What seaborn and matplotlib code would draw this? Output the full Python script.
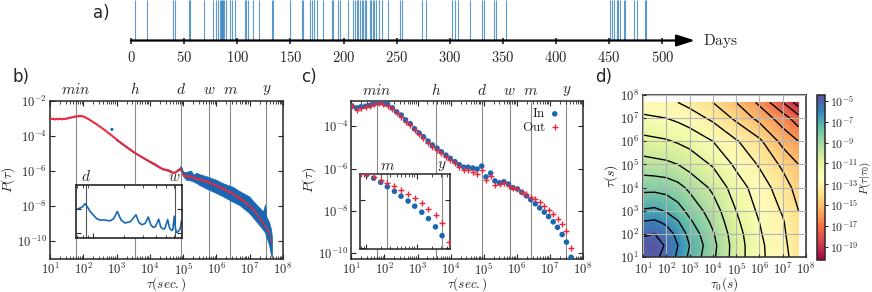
import numpy as np
import matplotlib
matplotlib.use('Agg')
import matplotlib.pyplot as plt
import matplotlib.ticker as mticker
import matplotlib.transforms as mtransforms
import seaborn as sns

# ---------------- data ----------------
# a) days with events
event_days = [4.1, 15.4, 39.9, 41, 54.6, 55.6, 69, 77.5, 80, 81.6, 84, 84.7, 85.3, 86, 86.7,
              87.6, 89.4, 93, 95, 98, 107.5, 108.5, 110.5, 114.6, 120.7, 133, 134, 150, 161,
              162, 168.5, 170, 172.3, 174.9, 181, 189, 190.5, 195.2, 196.8, 204.6, 209.4, 211,
              212.6, 214, 215.5, 217, 218.5, 220, 221.5, 224.5, 226, 227.5, 229, 231, 233, 236,
              242.3, 253.3, 254.9, 273.7, 277.8, 302, 305, 307.4, 318.6, 330, 331.8, 342, 343.4,
              353, 450.4, 452.6, 455, 457.3, 458.3, 460.5, 463.6, 465, 473, 476, 483.3, 485]
day_ticks = [0, 50, 100, 150, 200, 250, 300, 350, 400, 450, 500]

# characteristic time scales (seconds)
scale_names = ['min', 'h', 'd', 'w', 'm', 'y']
scale_secs = [60, 3600, 86400, 604800, 2629800, 31557600]

# b) log-binned P(tau) (red) and raw distribution (blue)
b_red_logtau = [1.00, 1.05, 1.10, 1.15, 1.20, 1.25, 1.30, 1.35, 1.40, 1.45, 1.50, 1.55, 1.60, 1.65,
                1.70, 1.75, 1.80, 1.85, 1.90, 1.95, 2.00, 2.05, 2.10, 2.15, 2.20, 2.25, 2.30, 2.35,
                2.40, 2.45, 2.50, 2.55, 2.60, 2.65, 2.70, 2.75, 2.80, 2.85, 2.90, 2.95, 3.00, 3.05,
                3.10, 3.15, 3.20, 3.25, 3.30, 3.35, 3.40, 3.45, 3.50, 3.55, 3.60, 3.65, 3.70, 3.75,
                3.80, 3.85, 3.90, 3.95, 4.00, 4.05, 4.10, 4.15, 4.20, 4.25, 4.30, 4.35, 4.40, 4.45,
                4.50, 4.55, 4.60, 4.65, 4.70, 4.75, 4.80, 4.85, 4.90, 4.95, 5.00, 5.05, 5.10, 5.15,
                5.20, 5.25, 5.30, 5.35, 5.40, 5.45, 5.50, 5.55, 5.60, 5.65, 5.70, 5.75, 5.80, 5.85,
                5.90, 5.95, 6.00, 6.05, 6.10, 6.15, 6.20, 6.25, 6.30, 6.35, 6.40, 6.45, 6.50, 6.55,
                6.60, 6.65, 6.70, 6.75, 6.80, 6.85, 6.90, 6.95, 7.00, 7.05, 7.10, 7.15, 7.20, 7.25,
                7.30, 7.35, 7.40, 7.45, 7.50, 7.55, 7.60, 7.65]
b_red_logp = [-3.03, -3.05, -3.04, -3.07, -3.05, -3.06, -3.04, -3.06, -3.04, -3.05, -3.03, -3.00,
              -2.98, -2.96, -2.94, -2.92, -2.90, -2.89, -2.88, -2.89, -2.91, -2.95, -3.00, -3.05,
              -3.11, -3.17, -3.23, -3.29, -3.35, -3.42, -3.48, -3.55, -3.62, -3.69, -3.76, -3.84,
              -3.91, -3.98, -4.06, -4.13, -4.21, -4.28, -4.36, -4.43, -4.50, -4.57, -4.64, -4.71,
              -4.78, -4.84, -4.91, -4.97, -5.03, -5.09, -5.15, -5.20, -5.26, -5.31, -5.37, -5.42,
              -5.47, -5.52, -5.57, -5.62, -5.68, -5.74, -5.80, -5.86, -5.91, -5.93, -5.94, -5.96,
              -6.00, -6.05, -6.10, -6.10, -6.04, -5.96, -5.90, -5.98, -6.20, -6.28, -6.30, -6.32,
              -6.30, -6.33, -6.38, -6.42, -6.44, -6.47, -6.50, -6.52, -6.55, -6.58, -6.61, -6.64,
              -6.68, -6.72, -6.76, -6.80, -6.84, -6.88, -6.93, -6.97, -7.02, -7.06, -7.11, -7.16,
              -7.21, -7.26, -7.32, -7.37, -7.43, -7.49, -7.55, -7.62, -7.69, -7.76, -7.83, -7.91,
              -8.00, -8.09, -8.19, -8.30, -8.42, -8.55, -8.68, -8.82, -8.96, -9.10, -9.25, -9.42,
              -9.62, -9.95]
b_blue_logtau = [3.0, 3.5, 4.0, 4.3, 4.5, 4.7, 4.8, 4.9, 4.94, 4.97, 5.0]
b_blue_logp = [-4.24, -4.92, -5.49, -5.82, -5.96, -6.12, -6.06, -5.92, -5.78, -5.95, -6.10]
b_band_logtau = [4.90, 4.94, 5.00, 5.09, 5.24, 5.30, 5.41, 5.49, 5.70, 5.99, 6.20, 6.49, 6.70,
                 6.99, 7.10, 7.30, 7.40, 7.46, 7.50, 7.58, 7.64, 7.67]
b_band_upper = [-5.90, -5.78, -6.05, -6.05, -5.98, -6.20, -6.10, -6.18, -6.30, -6.50, -6.70,
                -6.90, -7.15, -7.45, -7.70, -8.10, -8.30, -7.90, -8.60, -8.90, -9.30, -9.80]
b_band_lower = [-5.95, -5.95, -6.30, -6.50, -6.55, -6.60, -6.70, -6.80, -7.00, -7.25, -7.45,
                -7.75, -7.95, -8.40, -8.65, -9.10, -9.35, -9.50, -9.75, -10.20, -10.80, -10.90]
b_outlier_logtau = [2.86]
b_outlier_logp = [-3.64]
# b) inset: raw distribution between ~1 day and ~1 week
b_inset_logtau = [4.84, 4.90, 4.926, 4.95, 4.974, 5.038, 5.07, 5.101, 5.13, 5.165, 5.20, 5.235,
                  5.27, 5.308, 5.36, 5.413, 5.44, 5.468, 5.50, 5.531, 5.555, 5.579, 5.60, 5.630,
                  5.65, 5.674, 5.69, 5.716, 5.735, 5.754, 5.765, 5.779, 5.79, 5.802, 5.82, 5.834,
                  5.85]
b_inset_logp = [-6.03, -5.92, -5.78, -5.92, -6.10, -6.40, -6.46, -6.45, -6.47, -6.49, -6.40,
                -6.10, -6.45, -6.58, -6.52, -6.24, -6.55, -6.65, -6.60, -6.33, -6.66, -6.76,
                -6.72, -6.42, -6.75, -6.83, -6.80, -6.44, -6.80, -6.89, -6.85, -6.30, -6.80,
                -6.97, -6.92, -6.83, -6.45]

# c) in / out distributions (log-binned)
c_logtau = [1.02, 1.16, 1.29, 1.43, 1.56, 1.70, 1.83, 1.97, 2.10, 2.24, 2.37, 2.51, 2.64, 2.78,
            2.91, 3.05, 3.18, 3.32, 3.45, 3.59, 3.72, 3.86, 3.99, 4.13, 4.26, 4.40, 4.53, 4.67,
            4.80, 4.94, 5.07, 5.21, 5.34, 5.48, 5.61, 5.75, 5.88, 6.02, 6.15, 6.29, 6.42, 6.56,
            6.69, 6.83, 6.96, 7.10, 7.23, 7.37, 7.50, 7.64]
c_in_logp = [-3.03, -3.12, -3.07, -3.04, -3.00, -2.92, -2.88, -2.89, -2.95, -3.12, -3.31, -3.46,
             -3.69, -3.87, -4.11, -4.31, -4.49, -4.69, -4.88, -5.03, -5.20, -5.36, -5.51, -5.67,
             -5.81, -5.93, -5.93, -5.97, -6.02, -5.88, -6.39, -6.21, -6.58, -6.67, -6.62, -6.73,
             -6.90, -6.96, -7.12, -7.29, -7.47, -7.66, -7.86, -8.06, -8.27, -8.52, -8.78, -9.12,
             -9.48, -10.20]
c_out_logp = [-3.03, -3.20, -3.12, -3.10, -3.04, -2.95, -2.89, -2.92, -3.03, -3.15, -3.38, -3.54,
              -3.77, -3.95, -4.19, -4.35, -4.57, -4.77, -4.96, -5.11, -5.28, -5.44, -5.59, -5.74,
              -5.93, -6.08, -6.08, -6.16, -6.24, -6.04, -6.55, -6.35, -6.78, -6.75, -6.70, -6.81,
              -6.93, -6.96, -7.09, -7.21, -7.32, -7.44, -7.60, -7.75, -7.94, -8.13, -8.37, -8.63,
              -8.97, -9.74]

# d) log10 P(tau | tau0) on a grid of log10 tau0 (columns) and log10 tau (rows)
d_logtau0 = [1.0, 1.5, 2.0, 2.5, 3.0, 4.0, 5.0, 6.0, 7.0, 7.68]
d_logtau = [1.0, 1.5, 2.0, 2.5, 3.0, 4.0, 5.0, 6.0, 7.0, 7.68]
d_logp = [
    [-4.9, -4.8, -5.3, -6.2, -7.2, -8.8, -10.5, -11.8, -12.6, -13.6],
    [-4.7, -4.6, -5.1, -6.0, -7.0, -8.7, -10.5, -11.8, -12.7, -13.7],
    [-5.1, -5.0, -5.5, -6.3, -7.3, -8.9, -10.6, -11.9, -12.8, -13.8],
    [-5.9, -5.8, -6.2, -6.9, -7.8, -9.2, -10.8, -12.0, -12.9, -13.9],
    [-6.9, -6.8, -7.1, -7.6, -8.3, -9.5, -11.0, -12.2, -13.1, -14.0],
    [-8.3, -8.3, -8.4, -8.7, -9.2, -10.2, -11.5, -12.5, -13.5, -14.4],
    [-9.6, -9.7, -9.8, -10.0, -10.4, -11.1, -12.2, -13.1, -14.2, -15.0],
    [-10.7, -10.8, -10.9, -11.1, -11.3, -12.0, -12.9, -13.8, -15.3, -16.0],
    [-11.8, -11.9, -12.0, -12.2, -12.5, -13.2, -14.2, -15.3, -16.5, -17.6],
    [-12.6, -12.7, -12.8, -13.0, -13.3, -14.0, -15.0, -16.2, -18.0, -19.5],
]
cbar_ticks = [-5, -7, -9, -11, -13, -15, -17, -19]

# ---------------- style ----------------
sns.set_style('ticks')
plt.rcParams['font.family'] = ['DejaVu Sans']
plt.rcParams['mathtext.fontset'] = 'cm'
plt.rcParams['axes.linewidth'] = 1.1

BLUE = '#1967b2'
RED = '#e6283c'
GREY = '#8a8a8a'
W, H = 872, 292
TICK_FS = 9
LABEL_FS = 9.5


def box(l, t, r, b):
    # pixel box -> figure fraction
    return [l / W, 1 - b / H, (r - l) / W, (b - t) / H]


def pow10(v, pos):
    return r'$10^{%d}$' % int(round(np.log10(v)))


def log_axes(ax, xlim, ylim, yticks, labels=True):
    ax.set_xscale('log')
    ax.set_yscale('log')
    ax.set_xlim(*xlim)
    ax.set_ylim(*ylim)
    ax.xaxis.set_major_locator(mticker.FixedLocator([10.0 ** k for k in range(1, 9)]))
    ax.xaxis.set_minor_locator(mticker.LogLocator(base=10, subs=np.arange(2, 10), numticks=20))
    ax.yaxis.set_major_locator(mticker.FixedLocator([10.0 ** k for k in yticks]))
    ax.yaxis.set_minor_locator(mticker.NullLocator())
    ax.xaxis.set_minor_formatter(mticker.NullFormatter())
    if labels:
        ax.xaxis.set_major_formatter(mticker.FuncFormatter(pow10))
        ax.yaxis.set_major_formatter(mticker.FuncFormatter(pow10))
    else:
        ax.tick_params(labelbottom=False, labelleft=False)
    ax.tick_params(which='both', direction='in', top=True, right=True, labelsize=TICK_FS, pad=2)
    ax.tick_params(which='major', length=3.5)
    ax.tick_params(which='minor', length=2)


def scale_lines(ax, names, secs, color=GREY, size=11):
    trans = mtransforms.blended_transform_factory(ax.transData, ax.transAxes)
    for name, s in zip(names, secs):
        ax.axvline(s, color=color, lw=0.8, zorder=0)
        ax.text(s, 1.02, '$%s$' % name, transform=trans, ha='center', va='bottom', fontsize=size)


fig = plt.figure(figsize=(W / 100, H / 100), dpi=100)

# ---------------- a) ----------------
ax_a = fig.add_axes(box(131, 0, 695, 40.5))
ax_a.vlines(event_days, 0, 1, color='#2a78bb', lw=0.8, alpha=0.75)
ax_a.set_xlim(0, 530.8)
ax_a.set_ylim(0, 1)
for sp in ax_a.spines.values():
    sp.set_visible(False)
ax_a.annotate('', xy=(1, 0), xycoords='axes fraction', xytext=(0, 0),
              arrowprops=dict(arrowstyle='-|>,head_length=1.1,head_width=0.35', color='k',
                              lw=1.6, shrinkA=0, shrinkB=0))
ax_a.set_xticks(day_ticks)
ax_a.set_xticklabels(['$%d$' % d for d in day_ticks])
ax_a.tick_params(axis='x', direction='inout', length=5, width=1.2, pad=4, labelsize=10.5)
ax_a.set_yticks([])
fig.text(703 / W, 1 - 40.5 / H, r'$\mathrm{Days}$', ha='left', va='center', fontsize=11)
fig.text(93 / W, 1 - 13 / H, 'a)', ha='left', va='center', fontsize=12)

# ---------------- b) ----------------
ax_b = fig.add_axes(box(50, 100.5, 283, 259))
log_axes(ax_b, (10, 1e8), (1e-11, 1e-2), [-2, -4, -6, -8, -10])
scale_lines(ax_b, scale_names, scale_secs)
ax_b.fill_between(10.0 ** np.array(b_band_logtau), 10.0 ** np.array(b_band_lower),
                  10.0 ** np.array(b_band_upper), color=BLUE, lw=0.5, zorder=2)
sns.lineplot(x=10.0 ** np.array(b_blue_logtau), y=10.0 ** np.array(b_blue_logp), ax=ax_b,
             color=BLUE, lw=1.2, estimator=None, zorder=2)
sns.scatterplot(x=10.0 ** np.array(b_outlier_logtau), y=10.0 ** np.array(b_outlier_logp),
                ax=ax_b, color=BLUE, s=5, edgecolor='none', zorder=3)
sns.scatterplot(x=10.0 ** np.array(b_red_logtau), y=10.0 ** np.array(b_red_logp), ax=ax_b,
                color=RED, s=3, edgecolor='none', zorder=4)
ax_b.set_xlabel(r'$\tau(sec.)$', fontsize=LABEL_FS, labelpad=-1.5)
ax_b.set_ylabel(r'$P(\tau)$', fontsize=10, labelpad=0)
fig.text(12 / W, 1 - 77 / H, 'b)', ha='left', va='center', fontsize=12)

ax_bi = fig.add_axes(box(76, 185, 181.7, 238.3))
log_axes(ax_bi, (10 ** 4.84, 10 ** 5.85), (10 ** -7.21, 10 ** -5.01), [-6, -7], labels=False)
ax_bi.tick_params(top=False)
scale_lines(ax_bi, ['d', 'w'], [86400, 604800], color='#555555', size=11)
sns.lineplot(x=10.0 ** np.array(b_inset_logtau), y=10.0 ** np.array(b_inset_logp), ax=ax_bi,
             color=BLUE, lw=1.2, estimator=None, zorder=2)
ax_bi.set_ylabel(r'$P(\tau)$', fontsize=10.5, labelpad=2)
ax_bi.set_xlabel('')
for sp in ax_bi.spines.values():
    sp.set_linewidth(1.2)

# ---------------- c) ----------------
ax_c = fig.add_axes(box(351.3, 100.7, 583, 259))
log_axes(ax_c, (10, 1e8), (10 ** -10.28, 10 ** -2.78), [-4, -6, -8, -10])
scale_lines(ax_c, scale_names, scale_secs)
c_tau = 10.0 ** np.array(c_logtau)
sns.scatterplot(x=c_tau, y=10.0 ** np.array(c_in_logp), ax=ax_c, color=BLUE, s=16,
                edgecolor='none', label=r'$\mathrm{In}$', zorder=3)
sns.scatterplot(x=c_tau, y=10.0 ** np.array(c_out_logp), ax=ax_c, color=RED, s=22, marker='+',
                linewidth=1.0, label=r'$\mathrm{Out}$', zorder=4)
ax_c.legend(loc='upper right', bbox_to_anchor=(0.935, 1.0), markerfirst=False, frameon=False,
            fontsize=9.5, handletextpad=0.2, borderaxespad=0.1, labelspacing=0.05,
            handlelength=1.0)
ax_c.set_xlabel(r'$\tau(sec.)$', fontsize=LABEL_FS, labelpad=-1.5)
ax_c.set_ylabel(r'$P(\tau)$', fontsize=10, labelpad=0)
fig.text(301 / W, 1 - 77 / H, 'c)', ha='left', va='center', fontsize=12)

ax_ci = fig.add_axes(box(359.7, 174.3, 449.7, 249))
log_axes(ax_ci, (10 ** 5.875, 10 ** 7.65), (10 ** -10.03, 10 ** -6.96), [-8, -10], labels=False)
scale_lines(ax_ci, ['m', 'y'], [2629800, 31557600], color=GREY, size=11)
sns.scatterplot(x=c_tau, y=10.0 ** np.array(c_in_logp), ax=ax_ci, color=BLUE, s=16,
                edgecolor='none', zorder=3, legend=False)
sns.scatterplot(x=c_tau, y=10.0 ** np.array(c_out_logp), ax=ax_ci, color=RED, s=22, marker='+',
                linewidth=1.0, zorder=4, legend=False)
ax_ci.set_xlabel('')
ax_ci.set_ylabel('')

# ---------------- d) ----------------
ax_d = fig.add_axes(box(643, 95, 806, 257))
X, Y = np.meshgrid(d_logtau0, d_logtau)
Z = np.array(d_logp)
mesh = ax_d.pcolormesh(X, Y, Z, shading='gouraud', cmap='Spectral', vmin=-20.3, vmax=-4.4,
                       zorder=1)
ax_d.contour(X, Y, Z, levels=np.arange(-19, -4), colors='k', linewidths=1.0,
             linestyles='solid', zorder=2)
ax_d.set_xlim(1, 8)
ax_d.set_ylim(1, 8)
ax_d.set_xticks(range(1, 9))
ax_d.set_yticks(range(1, 9))
ax_d.set_xticklabels([r'$10^{%d}$' % k for k in range(1, 9)])
ax_d.set_yticklabels([r'$10^{%d}$' % k for k in range(1, 9)])
ax_d.tick_params(direction='in', length=2, labelsize=TICK_FS)
ax_d.tick_params(axis='x', pad=3.5)
ax_d.tick_params(axis='y', pad=3)
ax_d.grid(True, color='#b4b4b4', lw=0.8)
ax_d.set_axisbelow(False)
ax_d.set_xlabel(r'$\tau_0(s)$', fontsize=LABEL_FS, labelpad=-1.5)
ax_d.set_ylabel(r'$\tau(s)$', fontsize=10, labelpad=0)
fig.text(595 / W, 1 - 77 / H, 'd)', ha='left', va='center', fontsize=12)

cax = fig.add_axes(box(817, 95, 825, 260))
cb = fig.colorbar(mesh, cax=cax, ticks=cbar_ticks)
cb.ax.set_yticklabels([r'$10^{%d}$' % t for t in cbar_ticks])
cb.ax.tick_params(labelsize=8.5, length=2, pad=1.5)
cb.set_label(r'$P(\tau|\tau_0)$', fontsize=8, labelpad=-1)

fig.savefig('out.png', dpi=100)
